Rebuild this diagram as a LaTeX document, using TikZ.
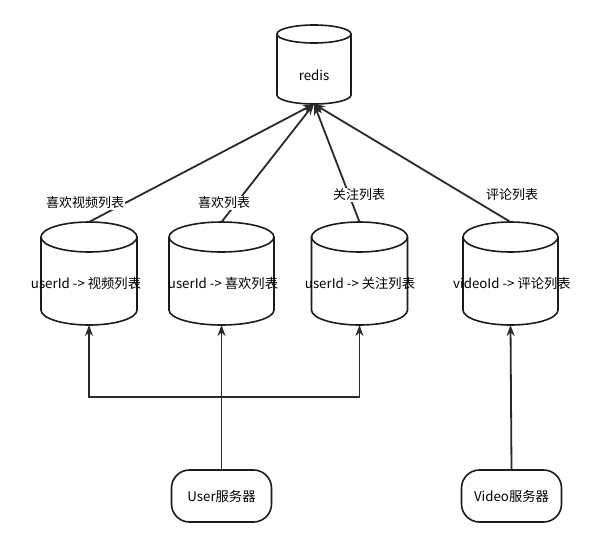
\documentclass[tikz,border=0pt]{standalone}
\usepackage{fontspec}
\setmainfont{Noto Sans CJK SC}
\usetikzlibrary{arrows.meta,positioning}
\definecolor{ink}{HTML}{1C1C1C}
\definecolor{wire}{HTML}{2A2A2A}
\tikzset{
  store/.style={
    rectangle, minimum width=96pt, minimum height=103pt,
    inner sep=0pt, outer sep=0pt
  },
  cache/.style={
    store, minimum width=74pt, minimum height=79pt
  },
  dbline/.style={
    draw=ink, fill=white, line width=1.6pt
  },
  dbtext/.style={
    inner sep=1pt, font=\fontsize{13.3}{15}\selectfont
  },
  tag/.style={
    fill=white, inner sep=1pt, font=\fontsize{13}{15}\selectfont
  },
  server/.style={
    draw=ink, fill=white, line width=1.6pt, rounded corners=18pt,
    minimum width=100pt, minimum height=52pt, inner sep=2pt,
    outer sep=0pt, font=\fontsize{13.3}{15}\selectfont
  },
  link/.style={
    draw=wire, line width=1.8pt, -{Stealth[length=11pt,width=8pt]}
  }
}
% outline of a store: node, half width, cap radius
\newcommand{\storeshape}[3]{%
  \path[dbline] ([yshift=-#3]#1.north west) -- ([yshift=#3]#1.south west)
    arc[start angle=180, end angle=360, x radius=#2, y radius=#3]
    -- ([yshift=-#3]#1.north east)
    arc[start angle=0, end angle=180, x radius=#2, y radius=#3] -- cycle;
  \draw[dbline, fill=none] ([yshift=-#3]#1.north east)
    arc[start angle=0, end angle=-180, x radius=#2, y radius=#3];
}

\begin{document}
\begin{tikzpicture}[x=1pt,y=-1pt]
  \useasboundingbox[fill=white] (0,0) rectangle (604,546);

  % redis on top
  \node[cache] (redis) at (314,64.5) {};
  \storeshape{redis}{37pt}{9pt}
  \node[dbtext] (redistxt) at (314,75) {redis};

  % the four stores
  \node[store] (c1) at (89,273.5) {};
  \node[store,minimum width=105pt] (c2) at (221.5,273.5) {};
  \node[store] (c3) at (359.5,273.5) {};
  \node[store,minimum width=95pt] (c4) at (510.5,273.5) {};
  \storeshape{c1}{48pt}{15pt}
  \storeshape{c2}{52.5pt}{15pt}
  \storeshape{c3}{48pt}{15pt}
  \storeshape{c4}{47.5pt}{15pt}
  \node[dbtext] (c1txt) at (86,283) {userId -> 视频列表};
  \node[dbtext] (c2txt) at (223,283) {userId -> 喜欢列表};
  \node[dbtext] (c3txt) at (360,283) {userId -> 关注列表};
  \node[dbtext] (c4txt) at (512,283) {videoId -> 评论列表};

  % servers
  \node[server] (user) at (221.5,496) {User服务器};
  \node[server] (video) at (511.5,496) {Video服务器};
  \coordinate (fork) at (221.5,397);

  % into redis
  \draw[link] (c1.north) -- (redis.south);
  \draw[link] (c2.north) -- (redis.south);
  \draw[link] (c3.north) -- (redis.south);
  \draw[link] (c4.north) -- (redis.south);
  \node[tag] (t1) at (85,203) {喜欢视频列表};
  \node[tag] (t2) at (224,203) {喜欢列表};
  \node[tag] (t3) at (359,195) {关注列表};
  \node[tag] (t4) at (512,195) {评论列表};

  % from the servers
  \draw[link] (user.north) -- (c2.south);
  \draw[link] (user.north) -- (fork) -| (c1.south);
  \draw[link] (user.north) -- (fork) -| (c3.south);
  \draw[link] (video.north) -- (c4.south);
\end{tikzpicture}
\end{document}
